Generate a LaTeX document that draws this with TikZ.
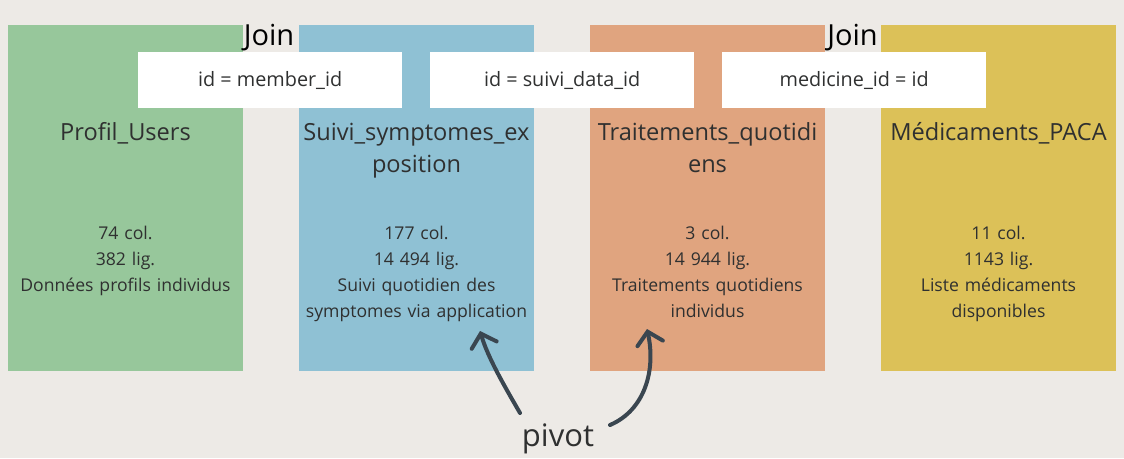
\documentclass[tikz,border=0pt]{standalone}
\usepackage{fontspec}
\setmainfont{Open Sans}
\usetikzlibrary{arrows.meta}
\definecolor{bg}{HTML}{EDEAE6}
\definecolor{cgreen}{HTML}{97C79B}
\definecolor{cblue}{HTML}{8FC1D4}
\definecolor{corange}{HTML}{E0A47F}
\definecolor{cyellow}{HTML}{DCC158}
\definecolor{ink}{HTML}{2F3030}
\definecolor{arrowc}{HTML}{3A4650}
\begin{document}
\begin{tikzpicture}[x=1pt,y=-1pt,
  tablebox/.style={anchor=north west, inner sep=0pt, minimum width=235pt, minimum height=346pt, draw=none},
  keybox/.style={anchor=north west, inner sep=0pt, minimum width=264pt, minimum height=56pt, fill=white, text=ink, font=\fontsize{19.8}{24}\selectfont},
  titletxt/.style={anchor=base, inner sep=0pt, text width=235pt, align=center, text=ink, font=\fontsize{23.6}{32}\selectfont},
  stattxt/.style={anchor=base, inner sep=0pt, text width=235pt, align=center, text=ink, font=\fontsize{17.6}{26}\selectfont},
  jointxt/.style={anchor=base, inner sep=0pt, text=black, font=\fontsize{29}{32}\selectfont},
  pivotarrow/.style={draw=arrowc, line width=4pt, line cap=round, -{Straight Barb[length=12pt,width=26pt,line cap=round]}}
]
\useasboundingbox[fill=bg] (0,0) rectangle (1124,458);
% tables
\node[tablebox, fill=cgreen]  (t1) at (8,25) {};
\node[tablebox, fill=cblue]   (t2) at (299,25) {};
\node[tablebox, fill=corange] (t3) at (590,25) {};
\node[tablebox, fill=cyellow] (t4) at (881,25) {};
% join labels
\node[jointxt] (j1) at (269,45) {Join};
\node[jointxt] (j2) at (852.5,45) {Join};
% key boxes
\node[keybox] (k1) at (138,52) {id = member\_id};
\node[keybox] (k2) at (430,52) {id = suivi\_data\_id};
\node[keybox] (k3) at (722,52) {medicine\_id = id};
% titles
\node[titletxt] (n1) at (125.5,140) {Profil\_Users};
\node[titletxt] (n2) at (416.5,140) {Suivi\_symptomes\_ex\\position};
\node[titletxt] (n3) at (707.5,140) {Traitements\_quotidi\\ens};
\node[titletxt] (n4) at (998.5,140) {Médicaments\_PACA};
% stats
\node[stattxt] (s1) at (125.5,239) {74 col.\\382 lig.\\Données profils individus};
\node[stattxt] (s2) at (416.5,239) {177 col.\\14 494 lig.\\Suivi quotidien des\\symptomes via application};
\node[stattxt] (s3) at (707.5,239) {3 col.\\14 944 lig.\\Traitements quotidiens\\individus};
\node[stattxt] (s4) at (998.5,239) {11 col.\\1143 lig.\\Liste médicaments\\disponibles};
% pivot
\node[anchor=base, inner sep=0pt, text=ink, font=\fontsize{31}{36}\selectfont] (pv) at (558,446) {pivot};
\coordinate (pl) at (520,413);
\coordinate (pr) at (610,425);
\coordinate (tl) at (480,331);
\coordinate (tr) at (647,329);
\draw[pivotarrow] (pl) .. controls (505,387) and (488,358) .. (tl);
\draw[pivotarrow] (pr) .. controls (645,410) and (656,370) .. (tr);
\end{tikzpicture}
\end{document}
